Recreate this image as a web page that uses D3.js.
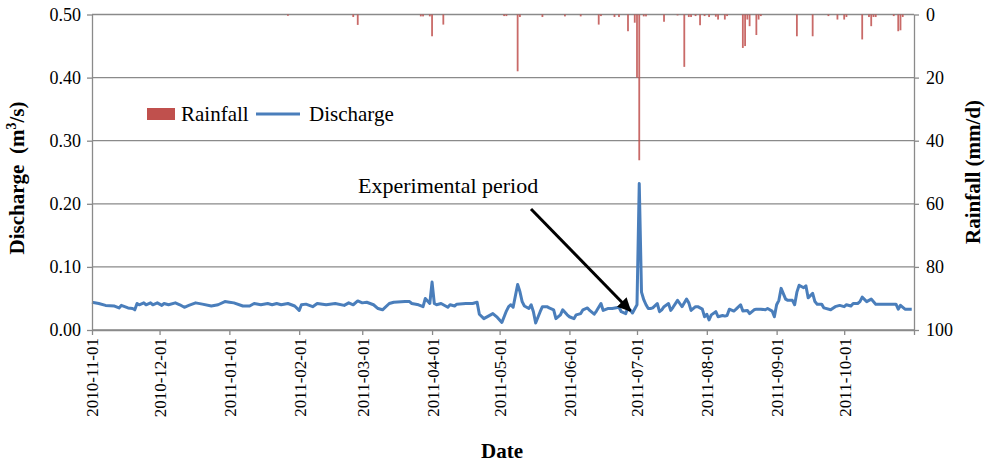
<!DOCTYPE html>
<html>
<head>
<meta charset="utf-8">
<script src="https://cdn.jsdelivr.net/npm/d3@7"></script>
<style>
  html, body { margin: 0; padding: 0; background: #fff; }
  svg text { font-family: "Liberation Serif", "Times New Roman", serif; fill: #000; }
</style>
</head>
<body>
<svg id="chart" width="987" height="463"></svg>
<script>
// Daily discharge (m3/s) at the outlet, Nov 2010 - Oct 2011
const discharge = [
  ["2010-11-01",0.044],["2010-11-04",0.042],["2010-11-07",0.039],["2010-11-11",0.038],
  ["2010-11-13",0.035],["2010-11-14",0.039],["2010-11-17",0.035],["2010-11-19",0.034],
  ["2010-11-20",0.032],["2010-11-21",0.042],["2010-11-22",0.040],["2010-11-24",0.043],
  ["2010-11-25",0.040],["2010-11-27",0.043],["2010-11-28",0.040],["2010-11-30",0.043],
  ["2010-12-02",0.039],["2010-12-03",0.042],["2010-12-05",0.040],["2010-12-08",0.043],
  ["2010-12-10",0.040],["2010-12-12",0.036],["2010-12-14",0.039],["2010-12-17",0.043],
  ["2010-12-20",0.041],["2010-12-24",0.038],["2010-12-27",0.040],["2010-12-30",0.045],
  ["2011-01-01",0.044],["2011-01-03",0.043],["2011-01-07",0.038],["2011-01-10",0.038],
  ["2011-01-12",0.042],["2011-01-15",0.040],["2011-01-18",0.042],["2011-01-20",0.040],
  ["2011-01-22",0.042],["2011-01-24",0.040],["2011-01-27",0.042],["2011-01-30",0.038],
  ["2011-02-01",0.031],["2011-02-02",0.040],["2011-02-04",0.041],["2011-02-07",0.037],
  ["2011-02-09",0.042],["2011-02-13",0.040],["2011-02-17",0.042],["2011-02-21",0.039],
  ["2011-02-23",0.043],["2011-02-25",0.040],["2011-02-27",0.046],
  ["2011-03-01",0.043],["2011-03-03",0.044],["2011-03-06",0.040],["2011-03-08",0.034],
  ["2011-03-10",0.032],["2011-03-13",0.042],["2011-03-15",0.044],["2011-03-20",0.045],
  ["2011-03-22",0.045],["2011-03-23",0.042],["2011-03-26",0.040],["2011-03-28",0.037],
  ["2011-03-29",0.050],["2011-03-31",0.042],
  ["2011-04-01",0.076],["2011-04-02",0.042],["2011-04-03",0.040],["2011-04-05",0.042],
  ["2011-04-06",0.040],["2011-04-08",0.036],["2011-04-09",0.040],["2011-04-11",0.038],
  ["2011-04-12",0.041],["2011-04-16",0.042],["2011-04-19",0.042],["2011-04-21",0.044],
  ["2011-04-22",0.025],["2011-04-24",0.018],["2011-04-27",0.024],["2011-04-28",0.026],
  ["2011-04-30",0.020],
  ["2011-05-02",0.012],["2011-05-04",0.030],["2011-05-05",0.037],["2011-05-06",0.040],
  ["2011-05-07",0.036],["2011-05-09",0.072],["2011-05-10",0.061],["2011-05-11",0.045],
  ["2011-05-12",0.038],["2011-05-13",0.036],["2011-05-14",0.034],["2011-05-15",0.040],
  ["2011-05-16",0.029],["2011-05-17",0.011],["2011-05-19",0.029],["2011-05-20",0.037],
  ["2011-05-22",0.037],["2011-05-23",0.035],["2011-05-25",0.032],["2011-05-26",0.018],
  ["2011-05-28",0.024],["2011-05-29",0.032],["2011-05-31",0.024],
  ["2011-06-01",0.021],["2011-06-03",0.018],["2011-06-04",0.024],["2011-06-06",0.026],
  ["2011-06-07",0.032],["2011-06-09",0.035],["2011-06-10",0.031],["2011-06-12",0.025],
  ["2011-06-13",0.030],["2011-06-15",0.042],["2011-06-16",0.031],["2011-06-18",0.034],
  ["2011-06-20",0.034],["2011-06-23",0.036],["2011-06-24",0.029],["2011-06-26",0.026],
  ["2011-06-27",0.036],["2011-06-29",0.027],
  ["2011-07-01",0.040],["2011-07-02",0.232],["2011-07-03",0.060],["2011-07-04",0.048],
  ["2011-07-05",0.040],["2011-07-06",0.034],["2011-07-07",0.034],["2011-07-08",0.035],
  ["2011-07-10",0.042],["2011-07-11",0.029],["2011-07-12",0.032],["2011-07-13",0.037],
  ["2011-07-15",0.042],["2011-07-16",0.031],["2011-07-17",0.036],["2011-07-19",0.047],
  ["2011-07-20",0.042],["2011-07-21",0.037],["2011-07-23",0.049],["2011-07-24",0.043],
  ["2011-07-25",0.031],["2011-07-27",0.037],["2011-07-28",0.037],["2011-07-30",0.033],
  ["2011-07-31",0.021],
  ["2011-08-01",0.025],["2011-08-02",0.016],["2011-08-03",0.024],["2011-08-05",0.029],
  ["2011-08-06",0.021],["2011-08-08",0.023],["2011-08-09",0.022],["2011-08-10",0.023],
  ["2011-08-11",0.033],["2011-08-13",0.030],["2011-08-14",0.033],["2011-08-16",0.040],
  ["2011-08-17",0.030],["2011-08-19",0.031],["2011-08-20",0.026],["2011-08-22",0.032],
  ["2011-08-23",0.033],["2011-08-25",0.033],["2011-08-27",0.032],["2011-08-28",0.034],
  ["2011-08-30",0.030],["2011-08-31",0.021],
  ["2011-09-01",0.040],["2011-09-02",0.047],["2011-09-03",0.066],["2011-09-05",0.049],
  ["2011-09-06",0.047],["2011-09-08",0.047],["2011-09-09",0.040],["2011-09-10",0.060],
  ["2011-09-11",0.071],["2011-09-13",0.067],["2011-09-14",0.070],["2011-09-15",0.051],
  ["2011-09-17",0.058],["2011-09-18",0.045],["2011-09-19",0.041],["2011-09-21",0.041],
  ["2011-09-22",0.035],["2011-09-25",0.032],["2011-09-27",0.037],["2011-09-29",0.039],
  ["2011-10-01",0.037],["2011-10-02",0.040],["2011-10-04",0.038],["2011-10-05",0.042],
  ["2011-10-07",0.042],["2011-10-08",0.045],["2011-10-09",0.052],["2011-10-11",0.045],
  ["2011-10-13",0.049],["2011-10-15",0.041],["2011-10-24",0.041],["2011-10-25",0.033],
  ["2011-10-26",0.039],["2011-10-28",0.033],["2011-10-31",0.033]
];

// Daily rainfall (mm/d), days with rain only
const rainfall = [
  ["2011-01-27",0.4],["2011-02-25",0.8],["2011-02-27",3.3],["2011-03-27",0.6],
  ["2011-03-28",0.6],["2011-03-31",0.6],["2011-04-01",6.9],["2011-04-06",3.2],
  ["2011-05-03",0.5],["2011-05-04",0.5],["2011-05-09",18.0],["2011-05-10",0.8],
  ["2011-05-20",0.8],["2011-05-30",0.6],["2011-06-06",0.6],["2011-06-14",3.2],
  ["2011-06-15",0.5],["2011-06-21",0.8],["2011-06-23",0.8],["2011-06-27",5.3],
  ["2011-06-30",2.6],["2011-07-01",20.0],["2011-07-02",46.2],["2011-07-04",0.6],
  ["2011-07-05",0.6],["2011-07-13",2.3],["2011-07-19",0.3],["2011-07-22",16.6],
  ["2011-07-24",0.8],["2011-07-25",0.8],["2011-07-27",0.5],["2011-07-29",3.4],
  ["2011-07-31",0.5],["2011-08-02",0.8],["2011-08-05",0.7],["2011-08-06",1.6],
  ["2011-08-09",1.6],["2011-08-10",0.5],["2011-08-17",10.6],["2011-08-18",10.0],
  ["2011-08-19",1.6],["2011-08-20",3.7],["2011-08-23",6.5],["2011-08-24",1.6],
  ["2011-08-25",0.5],["2011-09-10",6.9],["2011-09-17",6.9],["2011-09-24",0.5],
  ["2011-09-28",1.6],["2011-10-01",1.6],["2011-10-02",0.8],["2011-10-09",7.9],
  ["2011-10-12",0.8],["2011-10-13",3.7],["2011-10-14",0.8],["2011-10-15",0.8],
  ["2011-10-23",0.5],["2011-10-25",5.3],["2011-10-26",5.0],["2011-10-27",0.8]
];

// Axis ticks and labels
const monthTicks = ["2010-11-01","2010-12-01","2011-01-01","2011-02-01","2011-03-01",
  "2011-04-01","2011-05-01","2011-06-01","2011-07-01","2011-08-01","2011-09-01",
  "2011-10-01","2011-11-01"];
const dischargeTicks = [0, 0.1, 0.2, 0.3, 0.4, 0.5];
const rainfallTicks = [0, 20, 40, 60, 80, 100];
const seriesNames = ["Rainfall", "Discharge"];
const annotationText = "Experimental period";
const arrowTarget = ["2011-06-28", 0.029];

const parse = d3.timeParse("%Y-%m-%d");
const fmtDate = d3.timeFormat("%Y-%m-%d");

const W = 987, H = 463;
const plot = { left: 92, right: 914, top: 14.5, bottom: 330 };
const GRID = "#8a8a8a";
const BLUE = "#4a7ebb";
const RED = "#c0504d";

const svg = d3.select("#chart");

const x = d3.scaleTime()
  .domain([parse(monthTicks[0]), parse(monthTicks[monthTicks.length - 1])])
  .range([plot.left, plot.right]);
const y = d3.scaleLinear().domain([0, 0.5]).range([plot.bottom, plot.top]);
const y2 = d3.scaleLinear().domain([0, 100]).range([plot.top, plot.bottom]);

// horizontal gridlines
svg.append("g").selectAll("line").data(dischargeTicks).join("line")
  .attr("x1", plot.left).attr("x2", plot.right)
  .attr("y1", d => y(d)).attr("y2", d => y(d))
  .attr("stroke", GRID).attr("stroke-width", 1.3);

// rainfall bars hanging from the top
svg.append("g").selectAll("rect").data(rainfall).join("rect")
  .attr("x", d => x(parse(d[0])) - 0.9)
  .attr("y", y2(0))
  .attr("width", 1.8)
  .attr("height", d => y2(d[1]) - y2(0))
  .attr("fill", RED).attr("fill-opacity", 0.85);

// discharge line
const line = d3.line().x(d => x(parse(d[0]))).y(d => y(d[1]));
svg.append("path").datum(discharge)
  .attr("d", line).attr("fill", "none")
  .attr("stroke", BLUE).attr("stroke-width", 3)
  .attr("stroke-linejoin", "round");

// axes
const styleAxis = g => {
  g.select(".domain").attr("stroke", GRID).attr("stroke-width", 1.3);
  g.selectAll(".tick line").attr("stroke", GRID).attr("stroke-width", 1.3);
  g.selectAll("text").attr("font-family", "Liberation Serif, Times New Roman, serif")
    .attr("fill", "#000");
};

svg.append("g").attr("transform", `translate(${plot.left},0)`)
  .call(d3.axisLeft(y).tickValues(dischargeTicks).tickFormat(d3.format(".2f"))
    .tickSize(5).tickPadding(6).tickSizeOuter(0))
  .call(styleAxis)
  .call(g => g.selectAll("text").attr("font-size", 18));

svg.append("g").attr("transform", `translate(${plot.right},0)`)
  .call(d3.axisRight(y2).tickValues(rainfallTicks).tickSize(5).tickPadding(7).tickSizeOuter(0))
  .call(styleAxis)
  .call(g => g.selectAll("text").attr("font-size", 18));

const labelled = new Set(monthTicks.slice(0, -1));
svg.append("g").attr("transform", `translate(0,${plot.bottom})`)
  .call(d3.axisBottom(x).tickValues(monthTicks.map(parse))
    .tickFormat(d => labelled.has(fmtDate(d)) ? fmtDate(d) : "")
    .tickSize(5).tickSizeOuter(0))
  .call(styleAxis)
  .call(g => g.selectAll("text")
    .attr("font-size", 17)
    .attr("transform", "rotate(-90)")
    .attr("text-anchor", "end")
    .attr("x", -8).attr("y", 0).attr("dy", "0.35em"));

// axis titles
const leftTitle = svg.append("text")
  .attr("transform", `translate(24,178) rotate(-90)`)
  .attr("text-anchor", "middle").attr("font-weight", "bold").attr("font-size", 21)
  .attr("xml:space", "preserve").style("white-space", "pre");
leftTitle.append("tspan").text("Discharge  (m");
leftTitle.append("tspan").attr("font-size", 14).attr("dy", -8).text("3");
leftTitle.append("tspan").attr("dy", 8).text("/s)");

svg.append("text")
  .attr("transform", `translate(980,172) rotate(-90)`)
  .attr("text-anchor", "middle").attr("font-weight", "bold").attr("font-size", 21)
  .text("Rainfall (mm/d)");

svg.append("text")
  .attr("x", (plot.left + plot.right) / 2 - 1).attr("y", 458)
  .attr("text-anchor", "middle").attr("font-weight", "bold").attr("font-size", 21)
  .text("Date");

// legend
const legend = svg.append("g").attr("transform", "translate(147,114)");
legend.append("rect").attr("x", 0).attr("y", -6).attr("width", 28).attr("height", 12)
  .attr("fill", RED);
legend.append("text").attr("x", 34).attr("y", 7).attr("font-size", 21).text(seriesNames[0]);
legend.append("line").attr("x1", 109).attr("x2", 153).attr("y1", 0).attr("y2", 0)
  .attr("stroke", BLUE).attr("stroke-width", 3);
legend.append("text").attr("x", 162).attr("y", 7).attr("font-size", 21).text(seriesNames[1]);

// annotation with arrow
svg.append("defs").append("marker")
  .attr("id", "arrowhead").attr("viewBox", "0 0 10 10")
  .attr("refX", 9).attr("refY", 5)
  .attr("markerWidth", 4.5).attr("markerHeight", 4.5)
  .attr("orient", "auto")
  .append("path").attr("d", "M0,0 L10,5 L0,10 Z").attr("fill", "#000");

svg.append("text").attr("x", 358).attr("y", 193).attr("font-size", 22).text(annotationText);

const tx = x(parse(arrowTarget[0])), ty = y(arrowTarget[1]) - 1;
svg.append("line")
  .attr("x1", 531).attr("y1", 209).attr("x2", tx).attr("y2", ty)
  .attr("stroke", "#000").attr("stroke-width", 3)
  .attr("marker-end", "url(#arrowhead)");
</script>
</body>
</html>
